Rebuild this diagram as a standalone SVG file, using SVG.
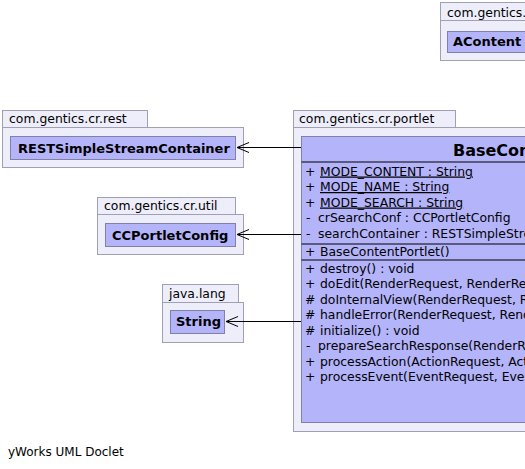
<svg xmlns="http://www.w3.org/2000/svg" width="525" height="469" viewBox="0 0 525 469">
<style>
text{font-family:"DejaVu Sans","Liberation Sans",sans-serif;fill:#000}
.pkg{fill:#eeeefb;stroke:#a0a0b4;stroke-width:1}
.cls{fill:#b4b4fa;stroke:#8080a8;stroke-width:1}
.plabel{font-size:12.4px}
.cname{font-size:13px;font-weight:bold}
.title{font-size:16px;font-weight:bold}
.mem{font-size:12.4px}
.foot{font-size:12px}
.sep{stroke:#000;stroke-width:1.2}
.conn{stroke:#000;stroke-width:1;fill:none}
</style>
<defs>
<marker id="open" markerWidth="14" markerHeight="12" refX="12" refY="6" orient="auto" markerUnits="userSpaceOnUse">
<path d="M0,1 L12,6 L0,11" fill="none" stroke="#000" stroke-width="1"/>
</marker>
</defs>
<rect width="525" height="469" fill="#fff"/>

<g id="pkg-acontent">
<rect class="pkg" x="440.5" y="2.5" width="100" height="18"/>
<rect class="pkg" x="440.5" y="20.5" width="100" height="40"/>
<text class="plabel" x="447" y="17">com.gentics.</text>
<g id="AContent">
<rect class="cls" x="447.5" y="31.5" width="90" height="21"/>
<text class="cname" x="453" y="46">AContent</text>
</g>
</g>

<g id="pkg-rest">
<rect class="pkg" x="2.5" y="110.5" width="145" height="17"/>
<rect class="pkg" x="2.5" y="127.5" width="241" height="40"/>
<text class="plabel" x="9" y="123">com.gentics.cr.rest</text>
<g id="RESTSimpleStreamContainer">
<rect class="cls" x="10.5" y="136.5" width="225" height="23"/>
<text class="cname" x="18" y="152.5">RESTSimpleStreamContainer</text>
</g>
</g>

<g id="pkg-util">
<rect class="pkg" x="97.5" y="197.5" width="138" height="17"/>
<rect class="pkg" x="97.5" y="214.5" width="146" height="40"/>
<text class="plabel" x="104" y="210">com.gentics.cr.util</text>
<g id="CCPortletConfig">
<rect class="cls" x="105.5" y="223.5" width="130" height="23"/>
<text class="cname" x="112" y="239.5">CCPortletConfig</text>
</g>
</g>

<g id="pkg-lang">
<rect class="pkg" x="162.5" y="284.5" width="76" height="18"/>
<rect class="pkg" x="162.5" y="302.5" width="81" height="40"/>
<text class="plabel" x="169" y="297.5">java.lang</text>
<g id="String">
<rect class="cls" x="170.5" y="310.5" width="54" height="23"/>
<text class="cname" x="176" y="326">String</text>
</g>
</g>

<g id="pkg-portlet">
<rect class="pkg" x="293.5" y="110.5" width="162" height="17"/>
<rect class="pkg" x="293.5" y="127.5" width="250" height="304"/>
<text class="plabel" x="299" y="123">com.gentics.cr.portlet</text>
<g id="BaseContentPortlet">
<rect class="cls" x="301.5" y="136.5" width="240" height="286"/>
<text class="title" x="453" y="155.5">BaseContentPortlet</text>
<line class="sep" x1="301.5" y1="162" x2="541" y2="162"/>
<text class="mem" x="305" y="175.5">+</text><text class="mem" x="320" y="175.5" text-decoration="underline">MODE_CONTENT : String</text>
<text class="mem" x="305" y="191">+</text><text class="mem" x="320" y="191" text-decoration="underline">MODE_NAME : String</text>
<text class="mem" x="305" y="206.5">+</text><text class="mem" x="320" y="206.5" text-decoration="underline">MODE_SEARCH : String</text>
<text class="mem" x="306" y="222">-</text><text class="mem" x="318" y="222">crSearchConf : CCPortletConfig</text>
<text class="mem" x="306" y="237.5">-</text><text class="mem" x="318" y="237.5">searchContainer : RESTSimpleStreamContainer</text>
<line class="sep" x1="301.5" y1="244" x2="541" y2="244"/>
<text class="mem" x="305" y="256">+</text><text class="mem" x="320" y="256">BaseContentPortlet()</text>
<line class="sep" x1="301.5" y1="260" x2="541" y2="260"/>
<text class="mem" x="305" y="272.5">+</text><text class="mem" x="320" y="272.5">destroy() : void</text>
<text class="mem" x="305" y="288">+</text><text class="mem" x="320" y="288">doEdit(RenderRequest, RenderResponse) : void</text>
<text class="mem" x="305" y="303.5">#</text><text class="mem" x="320" y="303.5">doInternalView(RenderRequest, RenderResponse) : void</text>
<text class="mem" x="305" y="319">#</text><text class="mem" x="320" y="319">handleError(RenderRequest, RenderResponse) : void</text>
<text class="mem" x="305" y="334.5">#</text><text class="mem" x="320" y="334.5">initialize() : void</text>
<text class="mem" x="306" y="350">-</text><text class="mem" x="318" y="350">prepareSearchResponse(RenderRequest) : void</text>
<text class="mem" x="305" y="365.5">+</text><text class="mem" x="320" y="365.5">processAction(ActionRequest, ActionResponse) : void</text>
<text class="mem" x="305" y="381">+</text><text class="mem" x="320" y="381">processEvent(EventRequest, EventResponse) : void</text>
</g>
</g>

<g id="connectors">
<line class="conn" x1="301" y1="147.5" x2="237" y2="147.5" marker-end="url(#open)"/>
<line class="conn" x1="301" y1="234.5" x2="237" y2="234.5" marker-end="url(#open)"/>
<line class="conn" x1="301" y1="321.5" x2="226" y2="321.5" marker-end="url(#open)"/>
</g>

<text class="foot" x="8" y="456">yWorks UML Doclet</text>
</svg>
